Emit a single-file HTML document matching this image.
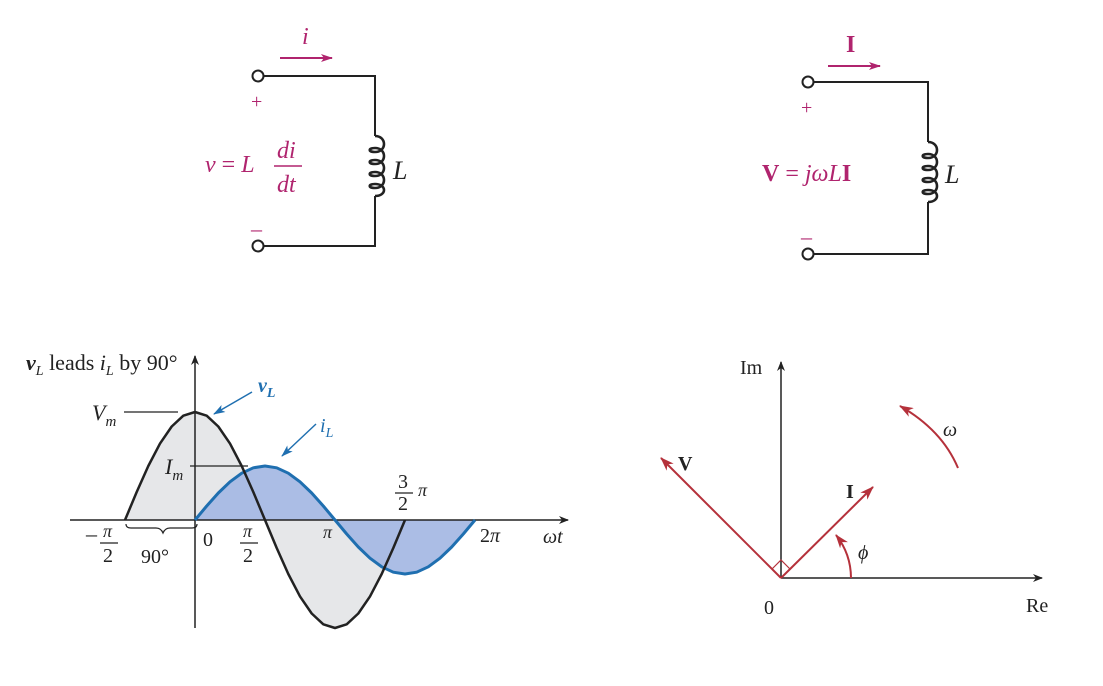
<!DOCTYPE html>
<html><head><meta charset="utf-8"><style>
html,body{margin:0;padding:0;background:#fff;}
svg{display:block;font-family:"Liberation Serif",serif;}
</style></head><body>
<svg width="1103" height="686" viewBox="0 0 1103 686" xmlns="http://www.w3.org/2000/svg">
<defs>
<marker id="ab" markerWidth="10" markerHeight="8" refX="9" refY="4" orient="auto" markerUnits="userSpaceOnUse"><path d="M0,0 L10,4 L0,8 L3,4 Z" fill="#222"/></marker>
<marker id="am" markerWidth="12" markerHeight="8" refX="11" refY="4" orient="auto" markerUnits="userSpaceOnUse"><path d="M0,0 L12,4 L0,8 L3,4 Z" fill="#b0246e"/></marker>
<marker id="ar" markerWidth="14" markerHeight="10" refX="13" refY="5" orient="auto" markerUnits="userSpaceOnUse"><path d="M0,0 L14,5 L0,10 L4,5 Z" fill="#b5313b"/></marker>
<marker id="abl" markerWidth="12" markerHeight="8" refX="11" refY="4" orient="auto" markerUnits="userSpaceOnUse"><path d="M0,0 L12,4 L0,8 L3,4 Z" fill="#1f6fb0"/></marker>
</defs>

<!-- Left circuit -->
<g stroke="#222" stroke-width="2" fill="none">
<circle cx="258" cy="76" r="5.5"/>
<circle cx="258" cy="246" r="5.5"/>
<path d="M264,76 H375 V136"/>
<path stroke-width="2.6" d="M375,136 c12,0 12,16 0,16 c-7,0 -7,-4 0,-4 c12,0 12,16 0,16 c-7,0 -7,-4 0,-4 c12,0 12,16 0,16 c-7,0 -7,-4 0,-4 c12,0 12,16 0,16 c-7,0 -7,-4 0,-4 c12,0 12,12 0,12"/>
<path d="M375,196 V246 H264"/>
</g>
<line x1="280" y1="58" x2="332" y2="58" stroke="#b0246e" stroke-width="2" marker-end="url(#am)"/>
<text x="302" y="44" font-size="24" font-style="italic" fill="#b0246e">i</text>
<text x="251" y="108" font-size="20" fill="#b0246e">+</text>
<text x="251" y="236" font-size="22" fill="#b0246e">–</text>
<text x="205" y="172" font-size="24" fill="#b0246e"><tspan font-style="italic">v</tspan> = <tspan font-style="italic">L</tspan></text>
<text x="277" y="158" font-size="24" font-style="italic" fill="#b0246e">di</text>
<line x1="274" y1="166" x2="302" y2="166" stroke="#b0246e" stroke-width="1.5"/>
<text x="277" y="192" font-size="24" font-style="italic" fill="#b0246e">dt</text>
<text x="393" y="179" font-size="26" font-style="italic" fill="#222">L</text>

<!-- Right circuit -->
<g stroke="#222" stroke-width="2" fill="none">
<circle cx="808" cy="82" r="5.5"/>
<circle cx="808" cy="254" r="5.5"/>
<path d="M814,82 H928 V142"/>
<path stroke-width="2.6" d="M928,142 c12,0 12,16 0,16 c-7,0 -7,-4 0,-4 c12,0 12,16 0,16 c-7,0 -7,-4 0,-4 c12,0 12,16 0,16 c-7,0 -7,-4 0,-4 c12,0 12,16 0,16 c-7,0 -7,-4 0,-4 c12,0 12,12 0,12"/>
<path d="M928,202 V254 H814"/>
</g>
<line x1="828" y1="66" x2="880" y2="66" stroke="#b0246e" stroke-width="2" marker-end="url(#am)"/>
<text x="846" y="52" font-size="24" font-weight="bold" fill="#b0246e">I</text>
<text x="801" y="114" font-size="20" fill="#b0246e">+</text>
<text x="801" y="244" font-size="22" fill="#b0246e">–</text>
<text x="762" y="181" font-size="24" fill="#b0246e"><tspan font-weight="bold">V</tspan> = <tspan font-style="italic">jωL</tspan><tspan font-weight="bold">I</tspan></text>
<text x="945" y="183" font-size="26" font-style="italic" fill="#222">L</text>

<!-- Waveforms -->
<polygon fill="#e6e7e9" points="125,520 136.7,492 148.3,466 160,443.6 171.7,426.5 183.3,415.7 195,412 206.7,415.7 218.3,426.5 230,443.6 241.7,466 253.3,492 265,520 276.7,548 288.3,574 300,596.4 311.7,613.5 323.3,624.3 335,628 346.7,624.3 358.3,613.5 370,596.4 381.7,574 393.3,548 405,520"/>
<polygon fill="#a7b9e4" fill-opacity="0.95" points="195,520 206.7,506 218.3,493 230,481.8 241.7,473.2 253.3,467.8 265,466 276.7,467.8 288.3,473.2 300,481.8 311.7,493 323.3,506 335,520 346.7,534 358.3,547 370,558.2 381.7,566.8 393.3,572.2 405,574 416.7,572.2 428.3,566.8 440,558.2 451.7,547 463.3,534 475,520"/>
<line x1="70" y1="520" x2="568" y2="520" stroke="#222" stroke-width="1.5" marker-end="url(#ab)"/>
<line x1="195" y1="628" x2="195" y2="356" stroke="#222" stroke-width="1.5" marker-end="url(#ab)"/>
<polyline fill="none" stroke="#1f6fb0" stroke-width="3" stroke-linejoin="round" points="195,520 206.7,506 218.3,493 230,481.8 241.7,473.2 253.3,467.8 265,466 276.7,467.8 288.3,473.2 300,481.8 311.7,493 323.3,506 335,520 346.7,534 358.3,547 370,558.2 381.7,566.8 393.3,572.2 405,574 416.7,572.2 428.3,566.8 440,558.2 451.7,547 463.3,534 475,520"/>
<polyline fill="none" stroke="#222" stroke-width="2.5" stroke-linejoin="round" points="125,520 136.7,492 148.3,466 160,443.6 171.7,426.5 183.3,415.7 195,412 206.7,415.7 218.3,426.5 230,443.6 241.7,466 253.3,492 265,520 276.7,548 288.3,574 300,596.4 311.7,613.5 323.3,624.3 335,628 346.7,624.3 358.3,613.5 370,596.4 381.7,574 393.3,548 405,520"/>
<line x1="124" y1="412" x2="178" y2="412" stroke="#222" stroke-width="1.2"/>
<line x1="190" y1="466" x2="248" y2="466" stroke="#222" stroke-width="1.2"/>
<line x1="252" y1="392" x2="214" y2="414" stroke="#1f6fb0" stroke-width="1.5" marker-end="url(#abl)"/>
<line x1="316" y1="424" x2="282" y2="456" stroke="#1f6fb0" stroke-width="1.5" marker-end="url(#abl)"/>
<path d="M126,524 q0,4 5,4 h25 q5,0 7,5 q2,-5 7,-5 h22 q5,0 5,-4" fill="none" stroke="#222" stroke-width="1.2"/>
<g font-size="22" fill="#222">
<text x="26" y="370"><tspan font-weight="bold" font-style="italic">v</tspan><tspan font-size="14" font-style="italic" dy="5">L</tspan><tspan dy="-5"> leads </tspan><tspan font-style="italic">i</tspan><tspan font-size="14" font-style="italic" dy="5">L</tspan><tspan dy="-5"> by 90°</tspan></text>
<text x="92" y="420" font-style="italic">V<tspan font-size="15" dy="6">m</tspan></text>
<text x="165" y="474" font-style="italic">I<tspan font-size="15" dy="6">m</tspan></text>
<text x="86" y="541">–</text>
<text x="103" y="537" font-size="18" font-style="italic">π</text>
<line x1="100" y1="543" x2="118" y2="543" stroke="#222" stroke-width="1.2"/>
<text x="103" y="562" font-size="20">2</text>
<text x="141" y="563" font-size="20">90°</text>
<text x="203" y="546" font-size="20">0</text>
<text x="243" y="537" font-size="18" font-style="italic">π</text>
<line x1="240" y1="543" x2="258" y2="543" stroke="#222" stroke-width="1.2"/>
<text x="243" y="562" font-size="20">2</text>
<text x="323" y="538" font-size="18" font-style="italic">π</text>
<text x="398" y="488" font-size="20">3</text>
<line x1="395" y1="493" x2="413" y2="493" stroke="#222" stroke-width="1.2"/>
<text x="398" y="510" font-size="20">2</text>
<text x="418" y="496" font-size="18" font-style="italic">π</text>
<text x="480" y="542" font-size="20">2<tspan font-style="italic">π</tspan></text>
<text x="543" y="543" font-size="20" font-style="italic">ωt</text>
</g>
<text x="258" y="392" font-size="20" font-weight="bold" font-style="italic" fill="#1f6fb0">v<tspan font-size="14" dy="5">L</tspan></text>
<text x="320" y="432" font-size="20" font-style="italic" fill="#1f6fb0">i<tspan font-size="14" dy="5">L</tspan></text>

<!-- Phasor diagram -->
<line x1="781" y1="578" x2="1042" y2="578" stroke="#222" stroke-width="1.5" marker-end="url(#ab)"/>
<line x1="781" y1="578" x2="781" y2="362" stroke="#222" stroke-width="1.5" marker-end="url(#ab)"/>
<line x1="781" y1="578" x2="661" y2="458" stroke="#b5313b" stroke-width="2" marker-end="url(#ar)"/>
<line x1="781" y1="578" x2="873" y2="487" stroke="#b5313b" stroke-width="2" marker-end="url(#ar)"/>
<path d="M772,569 L781,560 L790,569" fill="none" stroke="#b5313b" stroke-width="1.2"/>
<path d="M851,578 A70,70 0 0 0 836,535" fill="none" stroke="#b5313b" stroke-width="2" marker-end="url(#ar)"/>
<path d="M958,468 Q942,430 900,406" fill="none" stroke="#b5313b" stroke-width="2" marker-end="url(#ar)"/>
<g font-size="20" fill="#222">
<text x="740" y="374">Im</text>
<text x="1026" y="612">Re</text>
<text x="764" y="614">0</text>
<text x="678" y="470" font-weight="bold">V</text>
<text x="846" y="498" font-weight="bold">I</text>
<text x="858" y="559" font-style="italic">ϕ</text>
<text x="943" y="436" font-style="italic">ω</text>
</g>
</svg>
</body></html>
